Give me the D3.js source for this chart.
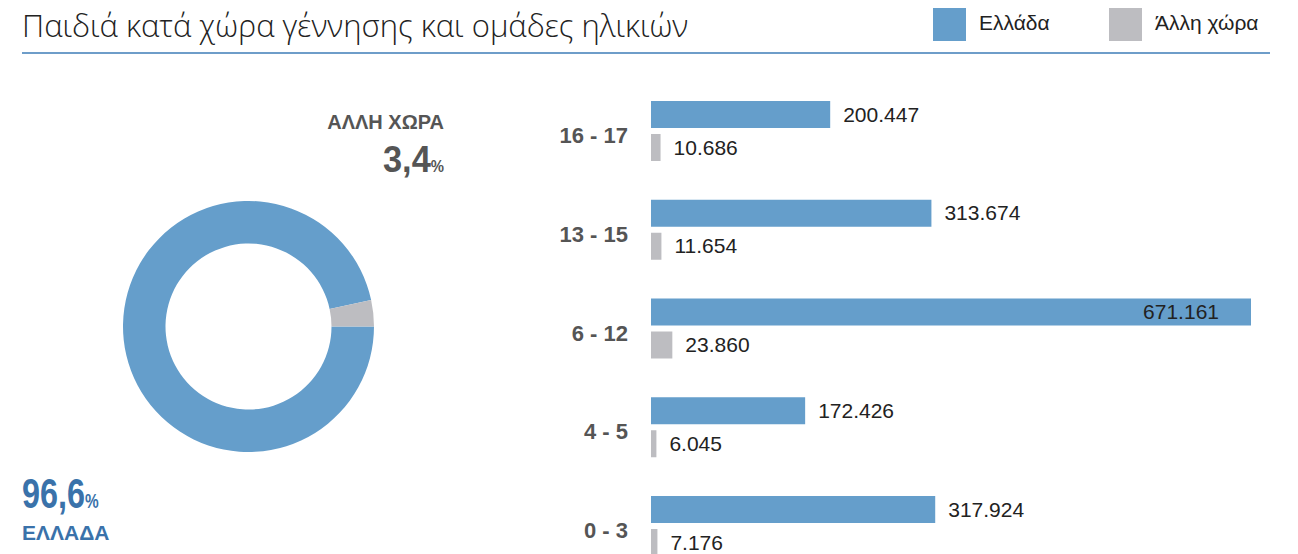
<!DOCTYPE html>
<html>
<head>
<meta charset="utf-8">
<script src="https://cdn.jsdelivr.net/npm/d3@7"></script>
<style>
  body { margin: 0; background: #fff; }
  svg { display: block; }
</style>
</head>
<body>
<svg id="chart" width="1298" height="554"></svg>
<script>
// data
let ageGroups = ["16 - 17", "13 - 15", "6 - 12", "4 - 5", "0 - 3"]
let greece = [200447, 313674, 671161, 172426, 317924]
let otherCountry = [10686, 11654, 23860, 6045, 7176]
let shareLabels = ["Ελλάδα", "Άλλη χώρα"]
let shares = [96.6, 3.4]

let blue = "#659ecb"
let grey = "#bdbdc1"
let darkBlue = "#3a72aa"
let sans = "'Liberation Sans', Arial, sans-serif"

let svg = d3.select("#chart")
let fmt = d3.formatLocale({ decimal: ",", thousands: ".", grouping: [3], currency: ["", "€"] })
let numFmt = fmt.format(",d")
let pctFmt = fmt.format(".1f")

// title + legend
svg.append("text")
    .attr("x", 22)
    .attr("y", 37)
    .style("font-family", "'Open Sans', 'Noto Sans', sans-serif")
    .style("font-weight", 300)
    .style("font-size", "31px")
    .style("fill", "#222")
    .text("Παιδιά κατά χώρα γέννησης και ομάδες ηλικιών")

svg.append("line")
    .attr("x1", 22).attr("x2", 1270)
    .attr("y1", 53).attr("y2", 53)
    .style("stroke", "#6e9dc9")
    .style("stroke-width", 2)

let legend = svg.append("g")
    .selectAll("g")
    .data(shareLabels)
    .join("g")
    .attr("transform", (d, i) => `translate(${933 + i * 176},8)`)

legend.append("rect")
    .attr("width", 33).attr("height", 33)
    .style("fill", (d, i) => i == 0 ? blue : grey)

legend.append("text")
    .attr("x", 46).attr("y", 22)
    .style("font-family", sans)
    .style("font-size", "21px")
    .style("fill", "#222")
    .text(d => d)

// donut
let cx = 248.5, cy = 326.5
let pie = d3.pie().sort(null).startAngle(Math.PI / 2).endAngle(Math.PI / 2 + 2 * Math.PI)
let arc = d3.arc().innerRadius(83).outerRadius(125.5)

svg.append("g")
    .attr("transform", `translate(${cx},${cy})`)
    .selectAll("path")
    .data(pie(shares))
    .join("path")
    .attr("d", arc)
    .style("fill", (d, i) => i == 0 ? blue : grey)

// share labels
svg.append("text")
    .attr("x", 444).attr("y", 129)
    .attr("text-anchor", "end")
    .style("font-family", sans)
    .style("font-weight", "bold")
    .style("font-size", "20px")
    .style("fill", "#555")
    .text("ΑΛΛΗ ΧΩΡΑ")

// big numbers are a condensed face, squeeze them horizontally
let otherPct = svg.append("text")
    .attr("transform", "translate(444,172) scale(0.93,1)")
    .attr("text-anchor", "end")
    .style("font-family", sans)
    .style("font-weight", "bold")
    .style("fill", "#555")
otherPct.append("tspan").style("font-size", "37px").text(pctFmt(shares[1]))
otherPct.append("tspan").style("font-size", "16px").text("%")

let greecePct = svg.append("text")
    .attr("transform", "translate(22,508) scale(0.77,1)")
    .style("font-family", sans)
    .style("font-weight", "bold")
    .style("fill", darkBlue)
greecePct.append("tspan").style("font-size", "42px").text(pctFmt(shares[0]))
greecePct.append("tspan").style("font-size", "20px").text("%")

svg.append("text")
    .attr("x", 22).attr("y", 540)
    .style("font-family", sans)
    .style("font-weight", "bold")
    .style("font-size", "21px")
    .style("fill", darkBlue)
    .text("ΕΛΛΑΔΑ")

// bars
let x = d3.scaleLinear()
    .domain([0, d3.max(greece)])
    .range([651, 1251])

let y = d3.scaleBand()
    .domain(ageGroups)
    .range([101, 101 + 5 * 98.75])

let barH = 27
let rows = ageGroups.map((g, i) => ({ group: g, greece: greece[i], other: otherCountry[i] }))

let row = svg.append("g")
    .selectAll("g")
    .data(rows)
    .join("g")
    .attr("transform", d => `translate(0,${y(d.group)})`)

row.append("rect")
    .attr("x", x(0))
    .attr("y", 0)
    .attr("width", d => x(d.greece) - x(0))
    .attr("height", barH)
    .style("fill", blue)

row.append("rect")
    .attr("x", x(0))
    .attr("y", 33)
    .attr("width", d => x(d.other) - x(0))
    .attr("height", barH)
    .style("fill", grey)

row.append("text")
    .attr("x", d => x(d.greece) > 1150 ? x(d.greece) - 32 : x(d.greece) + 13)
    .attr("y", barH / 2 + 7)
    .attr("text-anchor", d => x(d.greece) > 1150 ? "end" : "start")
    .style("font-family", sans)
    .style("font-size", "21px")
    .style("fill", "#222")
    .text(d => numFmt(d.greece))

row.append("text")
    .attr("x", d => x(d.other) + 13)
    .attr("y", 33 + barH / 2 + 7)
    .style("font-family", sans)
    .style("font-size", "21px")
    .style("fill", "#222")
    .text(d => numFmt(d.other))

row.append("text")
    .attr("x", 628)
    .attr("y", 42)
    .attr("text-anchor", "end")
    .style("font-family", sans)
    .style("font-weight", "bold")
    .style("font-size", "22px")
    .style("fill", "#555")
    .text(d => d.group)
</script>
</body>
</html>
